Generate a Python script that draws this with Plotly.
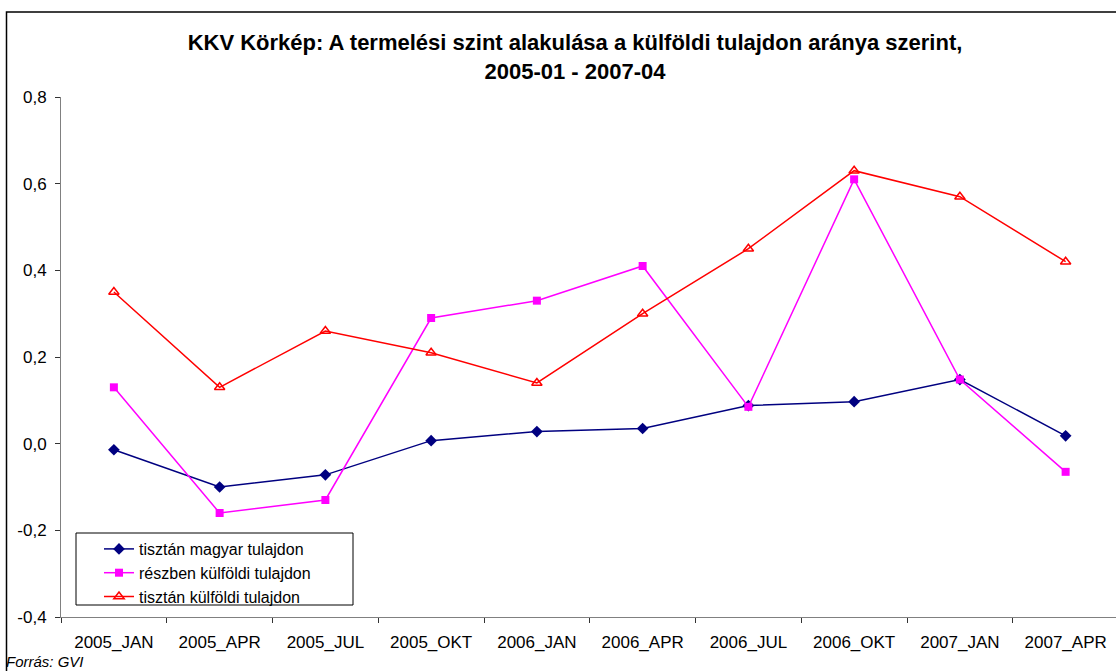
import plotly.graph_objects as go

categories = ["2005_JAN", "2005_APR", "2005_JUL", "2005_OKT", "2006_JAN",
              "2006_APR", "2006_JUL", "2006_OKT", "2007_JAN", "2007_APR"]
magyar = [-0.014, -0.10, -0.072, 0.007, 0.028, 0.035, 0.088, 0.097, 0.148, 0.018]
reszben = [0.13, -0.16, -0.13, 0.29, 0.33, 0.41, 0.085, 0.61, 0.148, -0.065]
kulfoldi = [0.35, 0.13, 0.26, 0.21, 0.14, 0.30, 0.45, 0.63, 0.57, 0.42]
y_ticks = [-0.4, -0.2, 0.0, 0.2, 0.4, 0.6, 0.8]

FONT = "Liberation Sans, Arial, sans-serif"

fig = go.Figure()
fig.add_trace(go.Scatter(x=categories, y=magyar, mode="lines+markers", name="tisztán magyar tulajdon",
                         line=dict(color="#000080", width=1.5),
                         marker=dict(symbol="diamond", size=9, color="#000080")))
fig.add_trace(go.Scatter(x=categories, y=reszben, mode="lines+markers", name="részben külföldi tulajdon",
                         line=dict(color="#ff00ff", width=1.5),
                         marker=dict(symbol="square", size=8, color="#ff00ff")))
fig.add_trace(go.Scatter(x=categories, y=kulfoldi, mode="lines+markers", name="tisztán külföldi tulajdon",
                         line=dict(color="#ff0000", width=1.5),
                         marker=dict(symbol="triangle-up-open", size=9, color="#ff0000",
                                     line=dict(width=1.5))))

# plot area in page pixels: x 61..1116 (chart is cropped on the right), y 97..617
L, R, T, B = 61, 1116, 97, 617
W, H = R - L, B - T
cat_w = 105.75  # category width in the original chart


def px(x):
    return (x - L) / W


def py(y):
    return (B - y) / H


fig.update_layout(
    width=1116, height=671,
    margin=dict(l=L, r=0, t=T, b=671 - B, pad=0),
    paper_bgcolor="white", plot_bgcolor="white",
    font=dict(family=FONT, size=17, color="black"),
    title=dict(text="<b>KKV Körkép: A termelési szint alakulása a külföldi tulajdon aránya szerint,<br>2005-01 - 2007-04</b>",
               x=px(575), xref="paper", xanchor="center",
               y=1 - 50 / 671, yanchor="middle",
               font=dict(size=22, family=FONT)),
    xaxis=dict(showgrid=False, showline=True, linecolor="#808080", linewidth=1,
               ticks="outside", ticklen=5, tickcolor="#333333", tickson="boundaries",
               tickfont=dict(size=17), ticklabelstandoff=10,
               range=[-0.5, -0.5 + W / cat_w]),
    yaxis=dict(showgrid=False, showline=True, linecolor="#808080", linewidth=1,
               ticks="outside", ticklen=5, tickcolor="#333333", zeroline=False,
               range=[-0.4, 0.8], tickvals=y_ticks,
               ticktext=[f"{v:.1f}".replace(".", ",") for v in y_ticks],
               tickfont=dict(size=17), ticklabelstandoff=5),
    legend=dict(x=px(99), y=py(532), xanchor="left", yanchor="top",
                borderwidth=0, bgcolor="rgba(0,0,0,0)",
                font=dict(size=16), tracegroupgap=0),
    showlegend=True,
    shapes=[
        dict(type="rect", xref="paper", yref="paper",
             x0=px(6.5), x1=px(1130), y0=py(690), y1=py(12),
             line=dict(color="black", width=1.5), fillcolor="rgba(0,0,0,0)"),
        dict(type="rect", xref="paper", yref="paper",
             x0=px(76), x1=px(353), y0=py(605), y1=py(533),
             line=dict(color="black", width=1), fillcolor="white", layer="below"),
    ],
    annotations=[dict(text="<i>Forrás: GVI</i>", xref="paper", yref="paper",
                      x=px(4), y=py(661), xanchor="left", yanchor="middle",
                      showarrow=False, font=dict(size=15))],
)

fig.write_html("out.html", config={"displayModeBar": False},
               post_script="document.body.style.margin='0';")
